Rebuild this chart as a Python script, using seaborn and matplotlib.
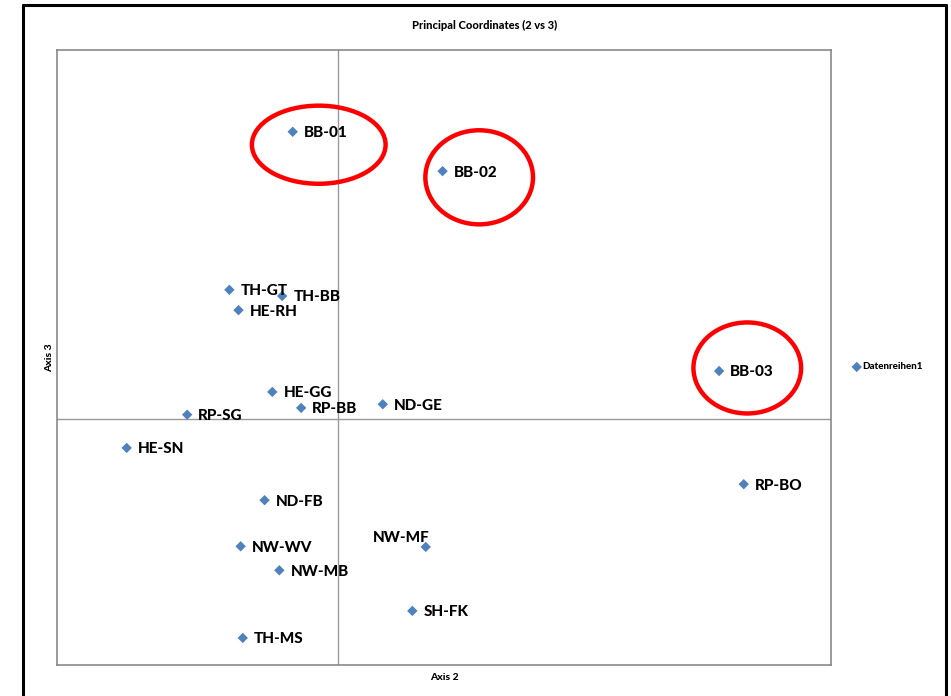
import matplotlib
matplotlib.use("Agg")
import matplotlib.pyplot as plt
from matplotlib.patches import Ellipse
from matplotlib.lines import Line2D
import seaborn as sns
import pandas as pd

# Site codes and their scores on principal coordinate axes 2 and 3
sites = ["BB-01", "BB-02", "TH-GT", "TH-BB", "HE-RH", "BB-03", "HE-GG", "RP-BB",
         "ND-GE", "RP-SG", "HE-SN", "RP-BO", "ND-FB", "NW-WV", "NW-MF", "NW-MB",
         "SH-FK", "TH-MS"]
axis2 = [-0.065, 0.148, -0.155, -0.080, -0.142, 0.541, -0.094, -0.053,
         0.063, -0.215, -0.301, 0.576, -0.105, -0.139, 0.124, -0.084,
         0.105, -0.136]
axis3 = [0.467, 0.403, 0.210, 0.200, 0.177, 0.078, 0.044, 0.018,
         0.024, 0.007, -0.047, -0.106, -0.132, -0.207, -0.208, -0.246,
         -0.312, -0.356]
highlighted = ["BB-01", "BB-02", "BB-03"]

df = pd.DataFrame({"site": sites, "Axis 2": axis2, "Axis 3": axis3})

sns.set_style("white")
plt.rcParams["font.family"] = ["Lato", "DejaVu Sans"]
plt.rcParams["text.color"] = "black"
plt.rcParams["axes.labelcolor"] = "black"

fig = plt.figure(figsize=(9.51, 6.96), dpi=100)
ax = fig.add_axes([57 / 951, 31 / 696, 774 / 951, 615 / 696])

sns.scatterplot(data=df, x="Axis 2", y="Axis 3", ax=ax, marker="D", s=28,
                color="#4F81BD", edgecolor="none", label="Datenreihen1",
                zorder=3)

ax.set_xlim(-0.4, 0.7)
ax.set_ylim(-0.4, 0.6)
ax.set_xticks([])
ax.set_yticks([])

# zero lines
ax.axhline(0, color="#999999", lw=1.0, zorder=1)
ax.axvline(0, color="#999999", lw=1.0, zorder=1)

for sp in ax.spines.values():
    sp.set_color("#808080")
    sp.set_linewidth(1.1)

# point labels
for name, x, y in zip(sites, axis2, axis3):
    if name == "NW-MF":
        ax.annotate(name, (x, y), xytext=(-38, 6.5), textcoords="offset points",
                    ha="left", va="center", fontsize=11, fontweight="black",
                    color="black")
    else:
        ax.annotate(name, (x, y), xytext=(8, -1), textcoords="offset points",
                    ha="left", va="center", fontsize=11, fontweight="black",
                    color="black")

# red rings round the highlighted sites
ring_specs = {"BB-01": (-0.028, 0.446, 0.190, 0.127),
              "BB-02": (0.200, 0.393, 0.153, 0.153),
              "BB-03": (0.581, 0.083, 0.153, 0.148)}
for name in highlighted:
    cx, cy, w, h = ring_specs[name]
    ax.add_patch(Ellipse((cx, cy), w, h, fill=False, edgecolor="#FF0000",
                         lw=3.2, zorder=4, clip_on=False))

ax.set_xlabel("Axis 2", fontsize=7.5, fontweight="black", labelpad=6)
ax.set_ylabel("Axis 3", fontsize=7.5, fontweight="black", labelpad=2)

fig.text(485 / 951, 1 - 25 / 696, "Principal Coordinates (2 vs 3)",
         ha="center", va="center", fontsize=8, fontweight="black")

ax.legend(loc="center left", bbox_to_anchor=(847 / 951, 1 - 367 / 696),
          bbox_transform=fig.transFigure, frameon=False,
          handletextpad=0.05, borderpad=0, handlelength=1.0,
          prop={"weight": "black", "size": 7})

# chart area frame
for xs, ys in [((23 / 951, 23 / 951), (0, 1 - 5 / 696)),
               ((23 / 951, 946 / 951), (1 - 5 / 696, 1 - 5 / 696)),
               ((946 / 951, 946 / 951), (1 - 5 / 696, 0))]:
    fig.add_artist(Line2D(xs, ys, transform=fig.transFigure, color="black",
                          lw=2.2))

fig.savefig("out.png", dpi=100)
